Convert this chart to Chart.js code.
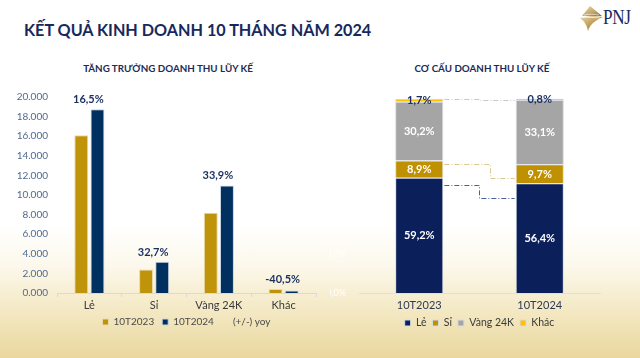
<!DOCTYPE html>
<html><head><meta charset="utf-8">
<script src="https://cdn.jsdelivr.net/npm/chart.js@4.4.1/dist/chart.umd.min.js"></script>
<style>
html,body{margin:0;padding:0;}
body{width:640px;height:358px;position:relative;overflow:hidden;
 background:linear-gradient(to bottom,#ffffff 0px,#ffffff 225px,#fcf8ec 265px,#f3e7c0 315px,#e9d79e 358px);
 font-family:Lato,"Open Sans",sans-serif;}
#title{position:absolute;left:24px;top:20px;font-weight:bold;font-size:16.2px;color:#17295c;white-space:nowrap;}
.sub{position:absolute;top:62px;font-weight:bold;font-size:9.8px;color:#1c2c55;white-space:nowrap;transform:translateX(-50%);}
#logo{position:absolute;left:578px;top:4px;width:60px;height:28px;}
#logo span{position:absolute;left:25px;top:0px;font-family:"Liberation Serif",serif;font-size:22px;color:#17295c;transform:scaleX(0.78);transform-origin:left top;letter-spacing:-0.5px;}
canvas{position:absolute;}
#c1{left:0;top:80px;}
#c2{left:330px;top:80px;}
</style></head>
<body>
<div id="title">KẾT QUẢ KINH DOANH 10 THÁNG NĂM 2024</div>
<div class="sub" style="left:168px">TĂNG TRƯỞNG DOANH THU LŨY KẾ</div>
<div class="sub" style="left:482px">CƠ CẤU DOANH THU LŨY KẾ</div>
<div id="logo">
<svg width="26" height="28" viewBox="0 0 26 28">
<defs><linearGradient id="g" x1="0" y1="0" x2="1" y2="1"><stop offset="0" stop-color="#e9d7a6"/><stop offset="0.6" stop-color="#b8924a"/><stop offset="1" stop-color="#6b4a1c"/></linearGradient></defs>
<path d="M12 2 L4 12 L24 12 Z" fill="url(#g)" opacity="0.85"/>
<path d="M2 14 C10 12 18 12 25 13 C18 16 12 20 10 27 C9 21 6 17 2 14 Z" fill="url(#g)"/>
<path d="M4 13.5 C10 13 16 13.5 22 14" stroke="#fff" stroke-width="0.7" fill="none"/>
<path d="M6 11 C11 10 16 10 21 11" stroke="#fff" stroke-width="0.6" fill="none"/>
</svg>
<span>PNJ</span>
</div>
<canvas id="c1" width="373" height="260" style="width:373px;height:260px"></canvas>
<canvas id="c2" width="300" height="260" style="width:300px;height:260px"></canvas>
<script>
// ---- data: revenue growth (left) ----
const growthCategories = ['Lẻ', 'Sỉ', 'Vàng 24K', 'Khác'];
const revenue10T2023 = [16100, 2400, 8200, 420];
const revenue10T2024 = [18760, 3185, 10980, 250];
const yoyGrowth = [16.5, 32.7, 33.9, -40.5];
const growthTickValues = [0, 2000, 4000, 6000, 8000, 10000, 12000, 14000, 16000, 18000, 20000];

// ---- data: revenue structure (right) ----
const structureCategories = ['10T2023', '10T2024'];
const shareLe = [59.2, 56.4];
const shareSi = [8.9, 9.7];
const shareVang24K = [30.2, 33.1];
const shareKhac = [1.7, 0.8];
// decorative connector lines: [level at 10T2023 side, level at 10T2024 side]
const connectorLe = [55.7, 48.8];
const connectorSi = [66.2, 59.2];
const connectorKhac = [99.5, 99.0];

const fmtPct = v => v.toFixed(1).replace('.', ',') + '%';
const fmtThousand = v => (v / 1000).toFixed(3);

const NAVY = '#00305f', GOLD = '#c0940a';
const LE_C = '#0b1f5b', SI_C = '#bf9000', VANG_C = '#a5a5a5', KHAC_C = '#ffc000';

Chart.defaults.font.family = 'Lato, "Open Sans", sans-serif';

// let axis labels draw outside the (compacted) axis boxes
const unclipPlugin = {
  id: 'unclip',
  afterLayout(chart) {
    chart.scales.x.bottom = chart.height;
    chart.scales.y.left = 0;
  }
};

const yoyPlugin = {
  id: 'yoyLabels',
  afterDatasetsDraw(chart) {
    const ctx = chart.ctx, m0 = chart.getDatasetMeta(0), m1 = chart.getDatasetMeta(1);
    const xs = chart.scales.x;
    ctx.save();
    ctx.font = 'bold 11px Lato';
    ctx.fillStyle = '#1a2f5e';
    ctx.textAlign = 'center';
    ctx.textBaseline = 'bottom';
    yoyGrowth.forEach((v, i) => {
      const top = Math.min(m0.data[i].y, m1.data[i].y);
      ctx.fillText(fmtPct(v), xs.getPixelForValue(i) - 1, top - 4);
    });
    ctx.restore();
  }
};

new Chart(document.getElementById('c1'), {
  type: 'bar',
  data: {
    labels: growthCategories,
    datasets: [
      { label: '10T2023', data: revenue10T2023, backgroundColor: GOLD, borderColor: '#e8d9a8', borderWidth: 1, barPercentage: 0.86, categoryPercentage: 0.5 },
      { label: '10T2024', data: revenue10T2024, backgroundColor: NAVY, borderColor: '#c9d2e0', borderWidth: 1, barPercentage: 0.86, categoryPercentage: 0.5 },
      { type: 'line', label: '(+/-) yoy', data: [], backgroundColor: 'rgba(0,0,0,0)', borderColor: 'rgba(0,0,0,0)', borderWidth: 0 }
    ]
  },
  options: {
    responsive: false, animation: false,
    layout: { padding: { left: 57, right: 57, top: 17, bottom: 3 } },
    plugins: {
      tooltip: { enabled: false },
      legend: {
        position: 'bottom',
        labels: { boxWidth: 6, boxHeight: 6, padding: 8, color: '#4a4a4a', font: { size: 10 } }
      }
    },
    scales: {
      x: {
        grid: { display: true, drawOnChartArea: false, drawTicks: true, tickLength: 4, color: '#d9d9d9' },
        border: { display: true, color: '#d9d9d9' },
        ticks: { color: '#3a3a3a', font: { size: 11 }, padding: 2 },
        afterFit(s) { s.height = 16; }
      },
      y: {
        min: 0, max: 20000,
        afterBuildTicks(s) { s.ticks = growthTickValues.map(v => ({ value: v })); },
        grid: { display: false, drawTicks: false },
        border: { display: false },
        ticks: { color: '#4f6a8f', font: { size: 10 }, padding: 9, callback: v => fmtThousand(v) },
        afterFit(s) { s.width = 0; }
      }
    }
  },
  plugins: [unclipPlugin, yoyPlugin]
});

const segLabelPlugin = {
  id: 'segLabels',
  afterDatasetsDraw(chart) {
    const ctx = chart.ctx;
    ctx.save();
    ctx.font = 'bold 11px Lato';
    ctx.textAlign = 'center';
    ctx.textBaseline = 'middle';
    chart.data.datasets.forEach((ds, di) => {
      const meta = chart.getDatasetMeta(di);
      meta.data.forEach((el, i) => {
        ctx.fillStyle = ds.labelColor;
        ctx.fillText(fmtPct(ds.data[i]), el.x, (el.y + el.base) / 2 + 0.5);
      });
    });
    ctx.restore();
  }
};

const connectorPlugin = {
  id: 'connectors',
  afterDatasetsDraw(chart) {
    const ctx = chart.ctx, ys = chart.scales.y;
    const b0 = chart.getDatasetMeta(0).data[0], b1 = chart.getDatasetMeta(0).data[1];
    const x0 = b0.x + b0.width / 2, x1 = b1.x - b1.width / 2;
    const lines = [
      { lv: connectorKhac, color: '#c8c8c8', step: 0.51 },
      { lv: connectorSi, color: '#dcc88c', step: 0.64 },
      { lv: connectorLe, color: '#4a62a0', step: 0.49 }
    ];
    ctx.save();
    ctx.lineWidth = 1;
    ctx.setLineDash([5, 2, 1, 2]);
    lines.forEach(l => {
      const ya = ys.getPixelForValue(l.lv[0]), yb = ys.getPixelForValue(l.lv[1]);
      const xm = x0 + (x1 - x0) * l.step;
      ctx.strokeStyle = l.color;
      ctx.beginPath();
      ctx.moveTo(x0 + 1, Math.round(ya) + 0.5);
      ctx.lineTo(Math.round(xm) + 0.5, Math.round(ya) + 0.5);
      ctx.lineTo(Math.round(xm) + 0.5, Math.round(yb) + 0.5);
      ctx.lineTo(x1 - 1, Math.round(yb) + 0.5);
      ctx.stroke();
    });
    ctx.restore();
  }
};

new Chart(document.getElementById('c2'), {
  type: 'bar',
  data: {
    labels: structureCategories,
    datasets: [
      { label: 'Lẻ', data: shareLe, backgroundColor: LE_C, labelColor: '#ffffff' },
      { label: 'Sỉ', data: shareSi, backgroundColor: SI_C, labelColor: '#ffffff' },
      { label: 'Vàng 24K', data: shareVang24K, backgroundColor: VANG_C, labelColor: '#ffffff' },
      { label: 'Khác', data: shareKhac, backgroundColor: KHAC_C, labelColor: '#1a2f5e' }
    ].map(d => Object.assign(d, { borderColor: '#d8dbe3', borderWidth: 1, barPercentage: 0.4, categoryPercentage: 1.0 }))
  },
  options: {
    responsive: false, animation: false,
    layout: { padding: { left: 29, right: 30, top: 15, bottom: 1.75 } },
    plugins: {
      tooltip: { enabled: false },
      legend: {
        position: 'bottom',
        labels: { boxWidth: 6, boxHeight: 6, padding: 6, color: '#3a3a3a', font: { size: 10.5 } }
      }
    },
    scales: {
      x: {
        stacked: true,
        grid: { display: false, drawTicks: false },
        border: { display: true, color: '#e0e0e0' },
        ticks: { color: '#2e3a52', font: { size: 11 }, padding: 6 },
        afterFit(s) { s.height = 18.75; }
      },
      y: {
        stacked: true, min: 0, max: 100,
        grid: { display: false, drawTicks: false },
        border: { display: false },
        ticks: { stepSize: 20, color: '#ffffff', font: { size: 9 }, padding: 13, callback: v => fmtPct(v) },
        afterFit(s) { s.width = 0; }
      }
    }
  },
  plugins: [unclipPlugin, connectorPlugin, segLabelPlugin]
});
</script>
</body></html>
